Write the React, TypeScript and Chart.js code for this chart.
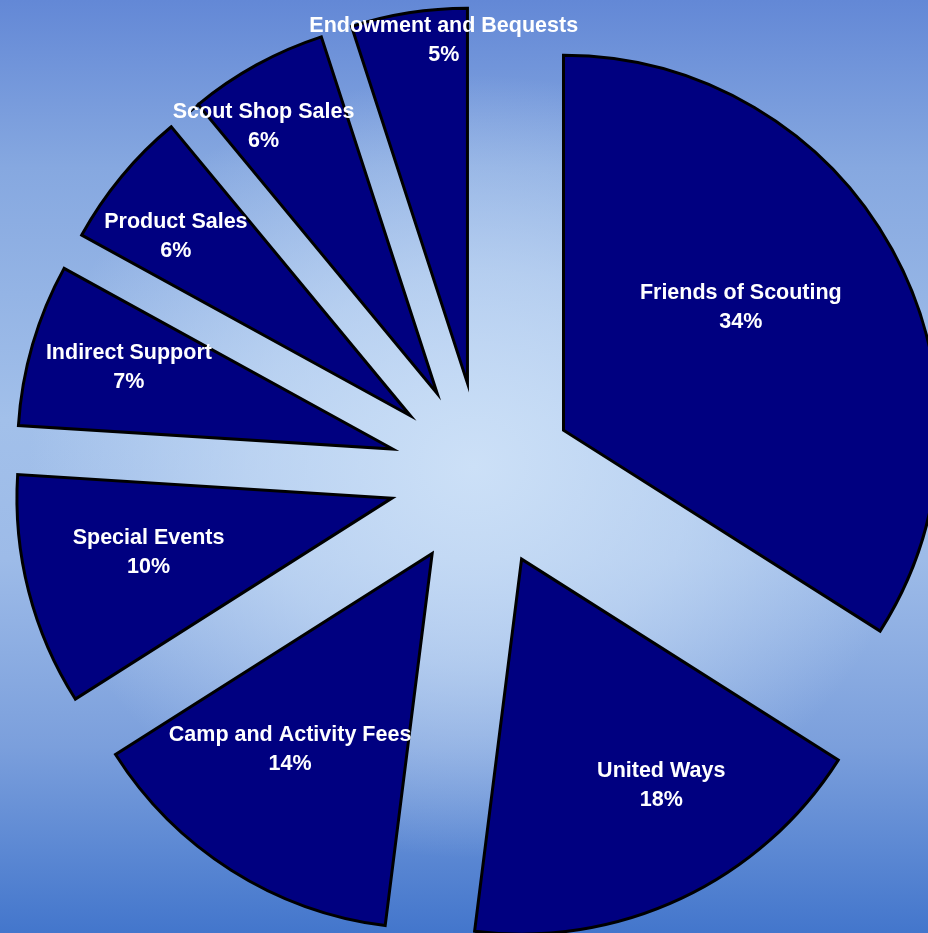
import React, { useEffect, useRef } from 'react';
import { Chart, ArcElement, PieController, registerables } from 'chart.js';

// ---- data ----
const categories = [
  'Friends of Scouting',
  'United Ways',
  'Camp and Activity Fees',
  'Special Events',
  'Indirect Support',
  'Product Sales',
  'Scout Shop Sales',
  'Endowment and Bequests',
];
const shares = [34, 18, 14, 10, 7, 6, 6, 5];

// ---- label placement (fraction of slice angle, fraction of radius from exploded apex) ----
const labelAngleFrac = [0.452, 0.4, 0.571, 0.55, 0.536, 0.398, 0.303, 0.78];
const labelRadiusFrac = [0.575, 0.709, 0.645, 0.665, 0.736, 0.787, 0.849, 0.916];

const EXPLODE = 93;

class ExplodedArc extends ArcElement {
  static id = 'explodedArc';
  static defaults = { ...(ArcElement as any).defaults, explode: 0 };
  draw(ctx: CanvasRenderingContext2D) {
    const self: any = this;
    const half = (self.startAngle + self.endAngle) / 2;
    const d = (self.options && self.options.explode) || 0;
    ctx.save();
    ctx.translate(Math.cos(half) * d, Math.sin(half) * d);
    super.draw(ctx);
    ctx.restore();
  }
}

class ExplodedPieController extends PieController {
  static id = 'explodedPie';
  static defaults = { dataElementType: 'explodedArc' };
}

Chart.register(...registerables, ExplodedArc as any, ExplodedPieController as any);

const sliceLabels = {
  id: 'sliceLabels',
  afterDatasetsDraw(chart: any) {
    const meta = chart.getDatasetMeta(0);
    const ctx: CanvasRenderingContext2D = chart.ctx;
    ctx.save();
    ctx.font = 'bold 21.5px "Liberation Sans", Arial, sans-serif';
    ctx.fillStyle = '#ffffff';
    ctx.textAlign = 'center';
    ctx.textBaseline = 'middle';
    meta.data.forEach((arc: any, i: number) => {
      const { x, y, startAngle, endAngle, outerRadius } = arc.getProps(
        ['x', 'y', 'startAngle', 'endAngle', 'outerRadius'],
        true
      );
      const ex = (arc.options && arc.options.explode) || 0;
      const half = (startAngle + endAngle) / 2;
      const ax = x + Math.cos(half) * ex;
      const ay = y + Math.sin(half) * ex;
      const a = startAngle + (endAngle - startAngle) * labelAngleFrac[i];
      const d = outerRadius * labelRadiusFrac[i];
      const lx = ax + Math.cos(a) * d;
      const ly = ay + Math.sin(a) * d;
      ctx.fillText(chart.data.labels[i], lx, ly - 14.5);
      ctx.fillText(`${chart.data.datasets[0].data[i]}%`, lx, ly + 14.5);
    });
    ctx.restore();
  },
};

export default function App() {
  const ref = useRef<HTMLCanvasElement | null>(null);
  useEffect(() => {
    if (!ref.current) return;
    const chart = new Chart(ref.current, {
      type: 'explodedPie' as any,
      data: {
        labels: categories,
        datasets: [
          {
            data: shares,
            backgroundColor: '#000080',
            borderColor: '#000000',
            borderWidth: 3,
            borderJoinStyle: 'miter',
            explode: EXPLODE,
            radius: 375,
          } as any,
        ],
      },
      options: {
        responsive: false,
        animation: false,
        events: [],
        layout: { padding: { left: 36, top: 17, right: 0, bottom: 0 } },
        plugins: {
          legend: { display: false },
          tooltip: { enabled: false },
        },
      } as any,
      plugins: [sliceLabels],
    });
    return () => chart.destroy();
  }, []);

  return (
    <div
      style={{
        position: 'fixed',
        left: 0,
        top: 0,
        width: 928,
        height: 933,
        overflow: 'hidden',
        background:
          'radial-gradient(ellipse 48% 42% at 51% 50%, rgba(204,224,247,1) 0%, rgba(204,224,247,0.6) 50%, rgba(204,224,247,0) 100%), linear-gradient(to bottom, #6388d6 0%, #86a8e0 18%, #a2c0ea 45%, #9dbbe8 60%, #7b9fdc 80%, #4376cc 100%)',
      }}
    >
      <canvas ref={ref} width={928} height={933} style={{ display: 'block' }} />
    </div>
  );
}
